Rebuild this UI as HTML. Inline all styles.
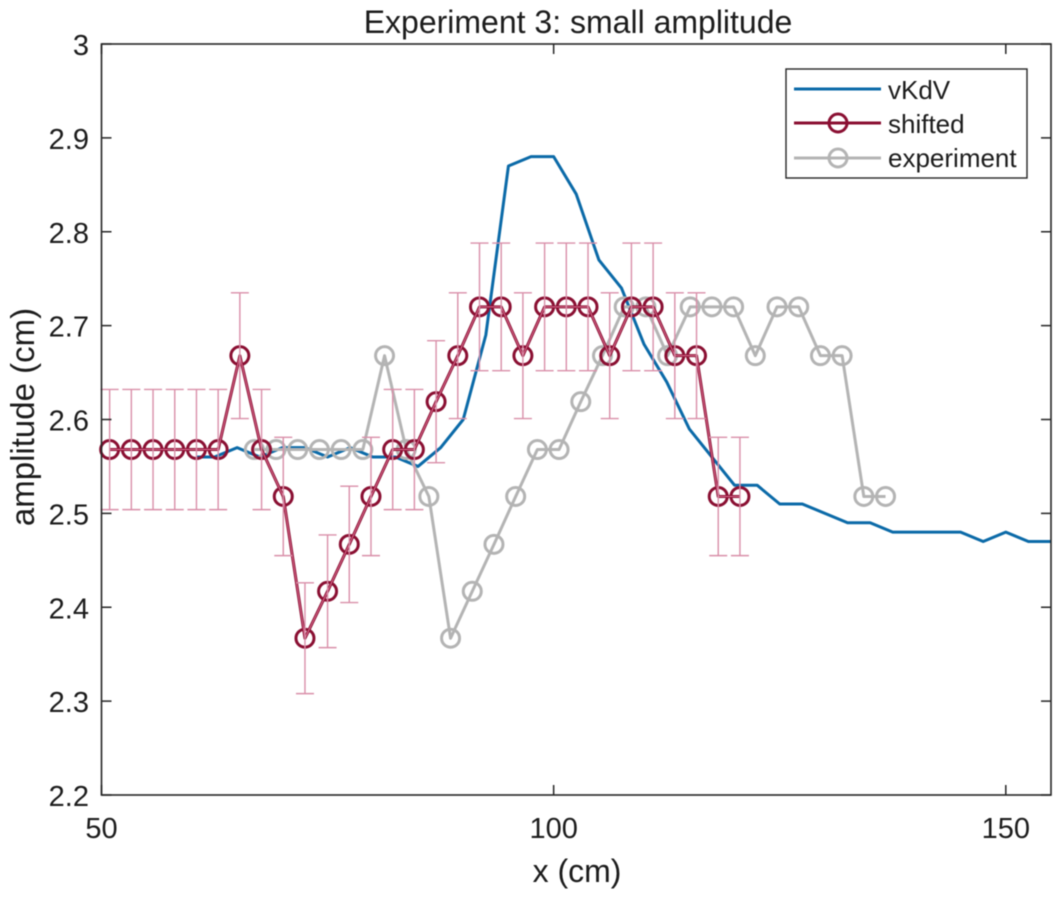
<!DOCTYPE html>
<html>
<head>
<meta charset="utf-8">
<style>
html,body{margin:0;padding:0;background:#fff;}
svg{display:block;filter:blur(0.45px);}
text{font-family:"Liberation Sans",Arial,sans-serif;fill:#1c1c1c;}
</style>
</head>
<body>
<svg id="chart" xmlns="http://www.w3.org/2000/svg" width="1063" height="897" viewBox="0 0 1063 897">
  <rect x="0" y="0" width="1063" height="897" fill="#fff"/>
  <text x="578" y="33" font-size="32" text-anchor="middle">Experiment 3: small amplitude</text>
  <text x="577" y="882" font-size="32" text-anchor="middle">x (cm)</text>
  <text transform="translate(34 417) rotate(-90)" font-size="33" text-anchor="middle">amplitude (cm)</text>
  <g id="series"></g>
  <rect x="101.5" y="44" width="949.5" height="751" fill="none" stroke="#262626" stroke-width="1.6"/>
  <g id="axes"></g>
  <g>
    <rect x="786" y="69" width="241" height="109" fill="#fff" stroke="#262626" stroke-width="1.4"/>
    <line x1="794" x2="881" y1="89" y2="89" stroke="#0b6aa8" stroke-width="3"/>
    <text x="888" y="99" font-size="26">vKdV</text>
    <line x1="794" x2="881" y1="123" y2="123" stroke="#8a0f32" stroke-width="3"/>
    <circle cx="838" cy="123" r="9" fill="none" stroke="#8a0f32" stroke-width="3"/>
    <text x="888" y="133" font-size="26">shifted</text>
    <line x1="794" x2="881" y1="158" y2="158" stroke="#b4b4b4" stroke-width="3"/>
    <circle cx="838" cy="158" r="9" fill="none" stroke="#b4b4b4" stroke-width="3"/>
    <text x="888" y="167" font-size="26">experiment</text>
  </g>
</svg>
<script>
const xTicks = [50, 100, 150];
const yTicks = [2.2, 2.3, 2.4, 2.5, 2.6, 2.7, 2.8, 2.9, 3];
const yTickLabels = ['2.2', '2.3', '2.4', '2.5', '2.6', '2.7', '2.8', '2.9', '3'];

const vkdvX = [60.5, 62.5, 65, 67.5, 70, 72.5, 75, 77.5, 80, 82.5, 85, 87.5, 90, 92.5, 95, 97.5, 100, 102.5, 105, 107.5, 110, 112.5, 115, 117.5, 120, 122.5, 125, 127.5, 130, 132.5, 135, 137.5, 140, 142.5, 145, 147.5, 150, 152.5, 155];
const vkdvY = [2.56, 2.56, 2.57, 2.56, 2.57, 2.57, 2.56, 2.57, 2.56, 2.56, 2.55, 2.57, 2.60, 2.69, 2.87, 2.88, 2.88, 2.84, 2.77, 2.74, 2.68, 2.64, 2.59, 2.56, 2.53, 2.53, 2.51, 2.51, 2.50, 2.49, 2.49, 2.48, 2.48, 2.48, 2.48, 2.47, 2.48, 2.47, 2.47];

const shiftedX = [50.9, 53.3, 55.7, 58.1, 60.5, 62.9, 65.3, 67.7, 70.1, 72.5, 75.0, 77.4, 79.8, 82.2, 84.6, 87.0, 89.4, 91.8, 94.2, 96.6, 99.0, 101.4, 103.8, 106.2, 108.6, 111.0, 113.4, 115.8, 118.2, 120.6];
const shiftedY = [2.568, 2.568, 2.568, 2.568, 2.568, 2.568, 2.668, 2.568, 2.518, 2.367, 2.417, 2.467, 2.518, 2.568, 2.568, 2.619, 2.668, 2.72, 2.72, 2.668, 2.72, 2.72, 2.72, 2.668, 2.72, 2.72, 2.668, 2.668, 2.518, 2.518];
const shiftedErr = [0.064, 0.064, 0.064, 0.064, 0.064, 0.064, 0.067, 0.064, 0.063, 0.059, 0.06, 0.062, 0.063, 0.064, 0.064, 0.065, 0.067, 0.068, 0.068, 0.067, 0.068, 0.068, 0.068, 0.067, 0.068, 0.068, 0.067, 0.067, 0.063, 0.063];

const experimentX = [66.9, 69.3, 71.7, 74.1, 76.5, 78.9, 81.3, 83.7, 86.2, 88.6, 91.0, 93.4, 95.8, 98.2, 100.6, 103.0, 105.4, 107.8, 110.2, 112.6, 115.1, 117.5, 119.9, 122.3, 124.7, 127.1, 129.5, 131.9, 134.3, 136.7];
const experimentY = [2.568, 2.568, 2.568, 2.568, 2.568, 2.568, 2.668, 2.568, 2.518, 2.367, 2.417, 2.467, 2.518, 2.568, 2.568, 2.619, 2.668, 2.72, 2.72, 2.668, 2.72, 2.72, 2.72, 2.668, 2.72, 2.72, 2.668, 2.668, 2.518, 2.518];

const NS = 'http://www.w3.org/2000/svg';
const xScale = v => 101.5 + (v - 50) * 9.043;
const yScale = v => 795 - (v - 2.2) * 938.75;
const seriesLayer = document.getElementById('series');
const axesLayer = document.getElementById('axes');

function make(tag, parent, props) {
  const el = document.createElementNS(NS, tag);
  for (const k in props) el.setAttribute(k, props[k]);
  parent.appendChild(el);
  return el;
}
function pointsOf(xs, ys) {
  return xs.map((x, i) => xScale(x).toFixed(2) + ',' + yScale(ys[i]).toFixed(2)).join(' ');
}

// vKdV line
const vkdvLine = make('polyline', seriesLayer, {points: pointsOf(vkdvX, vkdvY), fill: 'none', stroke: '#0b6aa8', 'stroke-width': 3, 'stroke-linejoin': 'round'});



// experiment line + markers
const expLine = make('polyline', seriesLayer, {points: pointsOf(experimentX, experimentY), fill: 'none', stroke: '#b4b4b4', 'stroke-width': 3, 'stroke-linejoin': 'round'});


experimentX.forEach((x, i) => {
  const c = make('circle', seriesLayer, {cx: xScale(x), cy: yScale(experimentY[i]), r: 9, fill: 'none', stroke: '#b4b4b4', 'stroke-width': 3});
  
  
});

// shifted line + markers
const shiftedLine = make('polyline', seriesLayer, {points: pointsOf(shiftedX, shiftedY), fill: 'none', stroke: '#8a0f32', 'stroke-width': 3, 'stroke-linejoin': 'round'});


shiftedX.forEach((x, i) => {
  const c = make('circle', seriesLayer, {cx: xScale(x), cy: yScale(shiftedY[i]), r: 9, fill: 'none', stroke: '#8a0f32', 'stroke-width': 3});
  
  
});

// error bars (pink, on top)
const overlay = make('polyline', seriesLayer, {points: pointsOf(shiftedX, shiftedY), fill: 'none', stroke: '#dd6f93', 'stroke-width': 1});


shiftedX.forEach((x, i) => {
  const px = xScale(x);
  const top = yScale(shiftedY[i] + shiftedErr[i]);
  const bottom = yScale(shiftedY[i] - shiftedErr[i]);
  const d = `M${px} ${top}V${bottom}M${px - 9} ${top}H${px + 9}M${px - 9} ${bottom}H${px + 9}`;
  const e = make('path', seriesLayer, {d: d, fill: 'none', stroke: '#d98fa9', 'stroke-width': 1.4});
  
  
});

// axes ticks
xTicks.forEach(v => {
  const px = xScale(v);
  const t = make('path', axesLayer, {d: `M${px} 795v-10M${px} 44v10`, stroke: '#262626', 'stroke-width': 1.5, fill: 'none'});
  
  
  const l = make('text', axesLayer, {x: px, y: 838, 'font-size': 29, 'text-anchor': 'middle'});
  l.textContent = String(v);
  
  
});
yTicks.forEach((v, i) => {
  const py = yScale(v);
  const t = make('path', axesLayer, {d: `M101.5 ${py}h10M1051 ${py}h-10`, stroke: '#262626', 'stroke-width': 1.5, fill: 'none'});
  
  
  const l = make('text', axesLayer, {x: 89, y: py + 11, 'font-size': 29, 'text-anchor': 'end'});
  l.textContent = yTickLabels[i];
  
  
});
</script>
</body>
</html>
